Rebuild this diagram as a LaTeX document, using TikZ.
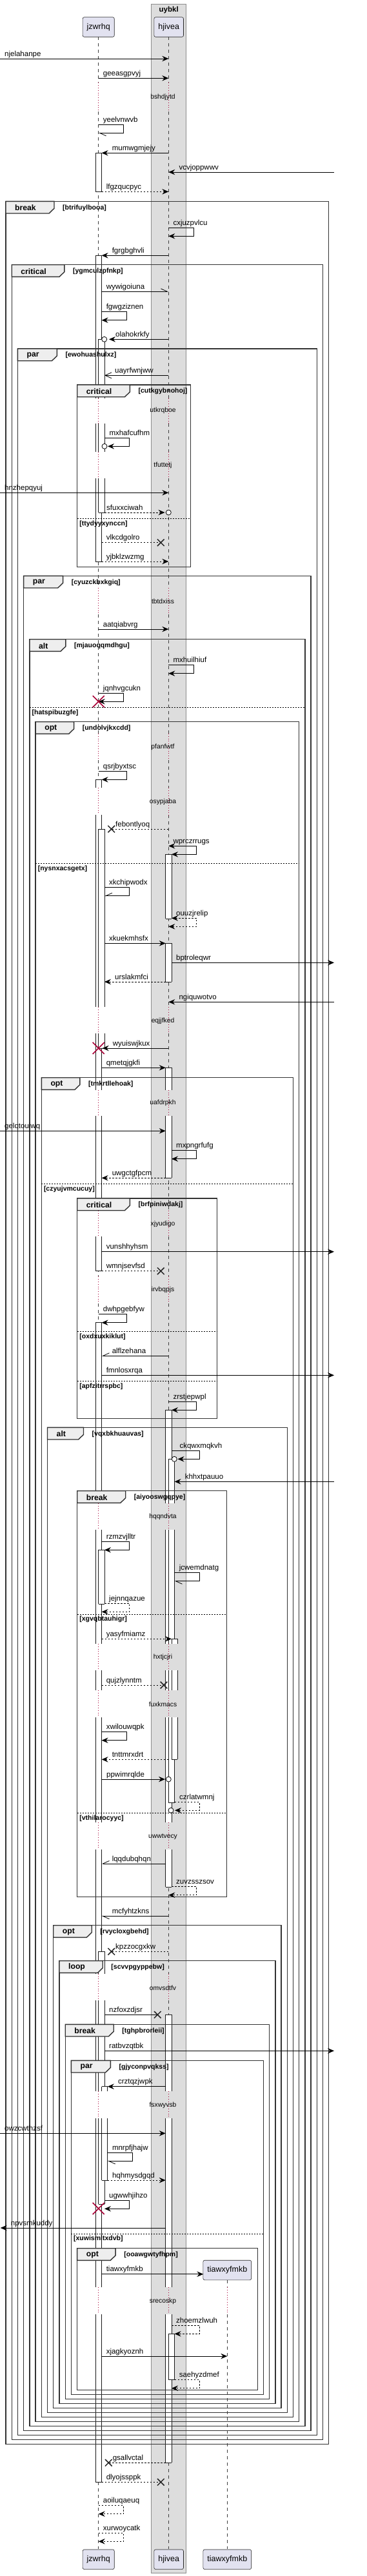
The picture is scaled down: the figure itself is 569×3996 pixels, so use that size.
\documentclass[tikz,border=0pt]{standalone}
\usepackage{fontspec}
\setmainfont{Liberation Sans}
\usetikzlibrary{arrows.meta}

\definecolor{partfill}{RGB}{226,226,240}
\definecolor{delayred}{RGB}{168,0,54}
\definecolor{boxgray}{RGB}{221,221,221}
\definecolor{tabgray}{RGB}{238,238,238}

\tikzset{
  arr/.style={line width=0.8pt, -{Stealth[length=10pt,width=8.5pt,inset=3.5pt]}},
  ret/.style={dash pattern=on 2.5pt off 2.5pt},
  halfl/.style={-{Straight Barb[left,length=10pt,width=9pt]}},
  halfr/.style={-{Straight Barb[right,length=10pt,width=9pt]}},
  openh/.style={-{Straight Barb[length=10pt,width=9pt]}},
  both/.style={{Stealth[length=10pt,width=8.5pt,inset=3.5pt]}-{Stealth[length=10pt,width=8.5pt,inset=3.5pt]}},
  lbl/.style={anchor=base west, inner sep=0pt, font=\fontsize{11.5}{13}\selectfont},
  part/.style={draw=black!85, fill=partfill, rounded corners=2.5pt, line width=0.6pt,
    minimum height=30.6pt, inner xsep=6.5pt, font=\fontsize{12.5}{15}\selectfont},
  life/.style={black!75, line width=0.6pt, dash pattern=on 5pt off 5pt},
  delayline/.style={delayred, line width=0.7pt, dash pattern=on 0.8pt off 3pt},
  delaytxt/.style={inner sep=0pt, font=\fontsize{10.3}{12}\selectfont},
  bar/.style={black!90, line width=0.7pt},
  frm/.style={black!80, line width=1.4pt},
  tab/.style={frm, fill=tabgray},
  kind/.style={anchor=west, inner sep=0pt, font=\bfseries\fontsize{12.2}{14}\selectfont},
  cond/.style={anchor=west, inner sep=0pt, font=\bfseries\fontsize{10.5}{12}\selectfont},
  sepl/.style={black, line width=0.7pt, dash pattern=on 2pt off 2pt},
  lostx/.style={black!85, line width=1.5pt},
  killx/.style={delayred, line width=1.6pt},
  ocirc/.style={circle, draw, fill=white, line width=0.8pt, minimum size=8pt, inner sep=0pt}
}

% message: [style] from, to, y, label
\newcommand{\sqmsg}[5][]{%
  \draw[arr,#1] (#2,#4) -- (#3,#4);
  \ifdim #2pt<#3pt \node[lbl] (#5) at (#2+7,#4-4) {#5};%
  \else \node[lbl] (#5) at (#3+16,#4-4) {#5};\fi}
% self message: [style] from, y, tip, label
\newcommand{\selfmsg}[5][]{%
  \pgfmathsetmacro\selfr{max(#2,#4)+38.7}
  \draw[arr,#1] (#2,#3) -- (\selfr,#3) -- (\selfr,#3+13) -- (#4,#3+13);
  \node[lbl] (#5) at (#2+7,#3-4) {#5};}
% lost message ending in a cross
\newcommand{\lostmsg}[5][]{%
  \draw[line width=0.8pt,#1] (#2,#4) -- (#3,#4);
  \draw[lostx] (#3-5.3,#4-5.3) -- (#3+5.3,#4+5.3) (#3-5.3,#4+5.3) -- (#3+5.3,#4-5.3);
  \ifdim #2pt<#3pt \node[lbl] (#5) at (#2+7,#4-4) {#5};%
  \else \node[lbl] (#5) at (#3+6.3,#4-4) {#5};\fi}
\newcommand{\destroyx}[2]{%
  \draw[killx] (#1-9,#2-9) -- (#1+9,#2+9) (#1-9,#2+9) -- (#1+9,#2-9);}
% activation: left x, y1, y2, edges (1 top, 2 bottom, 3 both)
\newcommand{\actbar}[4]{%
  \fill[white] (#1,#2) rectangle (#1+9.3,#3);
  \draw[bar] (#1,#2) -- (#1,#3) (#1+9.3,#2) -- (#1+9.3,#3);
  \ifodd#4 \draw[bar] (#1,#2) -- ++(9.3,0);\fi
  \ifnum#4>1 \draw[bar] (#1,#3) -- ++(9.3,0);\fi}
% group frame: left, top, right, bottom, kind, tab width, condition
\newcommand{\sqgroup}[7]{%
  \draw[frm] (#1,#2) rectangle (#3,#4);
  \filldraw[tab] (#1,#2) -- (#1+#6,#2) -- (#1+#6,#2+11) -- (#1+#6-8,#2+18.7) -- (#1,#2+18.7) -- cycle;
  \node[kind] (#7-tab) at (#1+14,#2+10) {#5};
  \node[cond] (#7) at (#1+#6+13,#2+10) {[#7]};}
\newcommand{\sqsep}[4]{%
  \draw[sepl] (#1,#3) -- (#2,#3);
  \node[cond] (#4) at (#1+3.5,#3+8) {[#4]};}

\begin{document}
\begin{tikzpicture}[x=1pt, y=-1pt]
  \path[use as bounding box, fill=white] (0,0) rectangle (569,3996);
  % box round hjivea
  \filldraw[fill=boxgray, draw=black!45, line width=0.7pt] (234.7,6) rectangle (288.7,3991);
  \node[font=\bfseries\fontsize{11.5}{13}\selectfont, inner sep=0pt] (uybkl) at (261.7,15.5) {uybkl};

  % lifelines, broken by the delays
  \foreach \ya/\yb in {57.3/128.3, 173.3/618.3, 657/700.7, 741.7/912.3, 953.3/1138, 1179/1222.3,
      1264.3/1562.3, 1603.3/1690.7, 1731/1877.7, 1918.3/1980.3, 2022/2332, 2373.3/2550, 2591/2622.3,
      2664/2827.3, 2869/3061.7, 3103.3/3244.3, 3285.7/3548.3, 3590/3954.3}
    \draw[life] (152.7,\ya) -- (152.7,\yb) (261.3,\ya) -- (261.3,\yb);
  \draw[life] (352.3,3537.3) -- (352.3,3548.3) (352.3,3590) -- (352.3,3954.3);
  \foreach \ya/\yb/\yt/\txt in {128.3/173.3/151/bshdjytd, 618.3/657/637/utkrqboe,
      700.7/741.7/722/tfuttetj, 912.3/953.3/933.3/tbtdxiss, 1138/1179/1159.3/pfanfwtf,
      1222.3/1264.3/1244.3/osypjaba, 1562.3/1603.3/1584.3/eqjjfked, 1690.7/1731/1711.3/uafdrpkh,
      1877.7/1918.3/1899.3/xjyudigo, 1980.3/2022/2001.3/irvbqpjs, 2332/2373.3/2353.3/hqqndvta,
      2550/2591/2571/hxtjcjri, 2622.3/2664/2643.7/fuxkmacs, 2827.3/2869/2849.3/uwwtvecy,
      3061.7/3103.3/3083.3/omvsdtfv, 3244.3/3285.7/3266/fsxwyvsb, 3548.3/3590/3570/srecoskp} {
    \draw[delayline] (152.7,\ya) -- (152.7,\yb) (261.3,\ya) -- (261.3,\yb);
    \node[delaytxt] (\txt) at (252.5,\yt) {\txt};
  }
  \draw[delayline] (352.3,3548.3) -- (352.3,3590);

  % activations on jzwrhq
  \foreach \ya/\yb/\e in {237.3/297.3/3, 396.3/618.3/1, 657/700.7/0, 741.7/871/2, 1209.3/1222.3/1,
      1264.3/1562.3/0, 1603.3/1690.7/0, 1731/1859/0, 1918.3/1971.7/2, 2051.3/2332/1, 2373.3/2550/0,
      2591/2622.3/0, 2664/2827.3/0, 2869/3061.7/0, 3103.3/3244.3/0, 3285.7/3548.3/0, 3590/3850.3/2}
    \actbar{148.3}{\ya}{\yb}{\e};
  \foreach \ya/\yb/\e in {526.3/618.3/1, 657/700.7/0, 741.7/795/2, 1286/1562.3/1, 1603.3/1626/2,
      2404.3/2488.3/3, 3027.3/3061.7/1, 3103.3/3244.3/0, 3285.7/3419/2}
    \actbar{152.7}{\ya}{\yb}{\e};
  \foreach \ya/\yb/\e in {3236.7/3244.3/1, 3285.7/3382/2}
    \actbar{157.5}{\ya}{\yb}{\e};
  % activations on hjivea
  \foreach \ya/\yb/\e in {1325/1425.3/3, 1463.3/1523/3, 1656.3/1690.7/1, 1731/1827.3/2, 2187.3/2332/1,
      2373.3/2550/0, 2591/2622.3/0, 2664/2827.3/0, 2869/2927.3/2, 3125.3/3244.3/1, 3285.7/3548.3/0,
      3590/3820.3/2}
    \actbar{256.7}{\ya}{\yb}{\e};
  \foreach \ya/\yb/\e in {2263.3/2332/1, 2373.3/2550/0, 2591/2622.3/0, 2664/2796/2, 3620.3/3691.7/3}
    \actbar{261.3}{\ya}{\yb}{\e};
  \foreach \ya/\yb/\e in {2542.3/2550/1, 2591/2622.3/0, 2664/2729.3/2}
    \actbar{266}{\ya}{\yb}{\e};

  % nested groups
  \foreach \k/\ft/\kd/\tw/\cd in {0/312.3/break/75/btrifuylbooa, 1/410.7/critical/81.7/ygmculzpfnkp,
      2/541/par/61/ewohuashulxz, 3/893.3/par/61/cyuzckbxkgiq, 4/991.7/alt/56/mjauoqqmdhgu,
      5/1119.7/opt/59.5/undolvjkxcdd, 6/1671.7/opt/59.5/tmkrtllehoak, 7/2214.3/alt/56/vqxbkhuauvas,
      8/2986.7/opt/59.5/rvycloxgbehd, 9/3041.7/loop/67.3/scvvpgyppebw, 10/3140.3/break/75/tghpbrorleii,
      11/3196.3/par/61/gjyconpvqkss, 12/3487.7/opt/59.5/ooawgwtyfhpm} {
    \pgfmathsetmacro\fl{9+9.22*\k}
    \pgfmathsetmacro\fr{509.7-9.2*\k}
    \pgfmathsetmacro\fb{3791.7-7.03*\k}
    \sqgroup{\fl}{\ft}{\fr}{\fb}{\kd}{\tw}{\cd}
  }
  % groups that close early
  \sqgroup{119.7}{597}{295.3}{879.3}{critical}{81.7}{cutkgybnohoj}
  \sqgroup{119.7}{1859}{336.3}{2200.3}{critical}{81.7}{brfpiniwdakj}
  \sqgroup{119.7}{2312.7}{351.3}{2942.3}{break}{75}{aiyooswgqpye}
  % else lines
  \sqsep{119.7}{295.3}{804.3}{ttydyyxynccn}
  \sqsep{45.9}{472.9}{1097.3}{hatspibuzgfe}
  \sqsep{55.1}{463.7}{1339.3}{nysnxacsgetx}
  \sqsep{64.3}{454.5}{1836.3}{czyujvmcucuy}
  \sqsep{119.7}{336.3}{2065.7}{oxdxuxkiklut}
  \sqsep{119.7}{336.3}{2142.7}{apfzitrrspbc}
  \sqsep{119.7}{351.3}{2504}{xgvqbtauhigr}
  \sqsep{119.7}{351.3}{2812.3}{vthilarocyyc}
  \sqsep{110.4}{408.5}{3465}{xuwismltxdvb}

  % participants
  \node[part] (jz) at (152.7,42) {jzwrhq};
  \node[part] (hj) at (261.7,42) {hjivea};
  \node[part] (jzb) at (152.7,3970.2) {jzwrhq};
  \node[part] (hjb) at (261.7,3970.2) {hjivea};
  \node[part] (ti) at (352.3,3521.5) {tiawxyfmkb};
  \node[part] (tib) at (352.3,3970.2) {tiawxyfmkb};

  % messages
  \sqmsg{0}{261.3}{91}{njelahanpe}
  \sqmsg{152.7}{261.3}{121.3}{geeasgpvyj}
  \selfmsg[halfl]{152.7}{193.3}{152.7}{yeelvnwvb}
  \sqmsg{261.3}{157.6}{237.3}{mumwgmjejy}
  \sqmsg{518}{261.3}{267}{vcvjoppwwv}
  \sqmsg[ret]{157.6}{261.3}{297.3}{lfgzqucpyc}
  \selfmsg{261.3}{353.3}{261.3}{cxjuzpvlcu}
  \sqmsg{261.3}{157.6}{396.3}{fgrgbghvli}
  \sqmsg[halfl]{157.6}{261.3}{452.3}{wywigoiuna}
  \selfmsg{157.6}{483.7}{157.6}{fgwgziznen}
  \draw[arr] (261.3,526.3) -- (169,526.3);
  \node[ocirc] (o1) at (161.7,526.3) {};
  \node[lbl] (olahokrkfy) at (179,522.3) {olahokrkfy};
  \sqmsg[openh]{261.3}{162}{582.3}{uayrfwnjww}
  \draw[arr] (162,679.3) -- (200.7,679.3) -- (200.7,692.3) -- (167,692.3);
  \node[ocirc] (o2) at (162,692.3) {};
  \node[lbl] (mxhafcufhm) at (169.3,675.3) {mxhafcufhm};
  \sqmsg{0}{261.3}{764.3}{hnzhepqyuj}
  \draw[arr,ret] (162,795) -- (255.5,795);
  \node[ocirc] (o3) at (261.3,795) {};
  \node[lbl] (sfuxxciwah) at (165,791) {sfuxxciwah};
  \lostmsg[ret]{157.6}{249.3}{841.7}{vlkcdgolro}
  \sqmsg[ret]{157.6}{261.3}{871}{yjbklzwzmg}
  \sqmsg{152.7}{261.3}{976}{aatqiabvrg}
  \selfmsg{261.3}{1031.7}{261.3}{mxhuilhiuf}
  \selfmsg{152.7}{1075.3}{152.7}{jqnhvgcukn}
  \destroyx{152.7}{1088.3}
  \selfmsg{152.7}{1196.3}{157.6}{qsrjbyxtsc}
  \lostmsg[ret]{261.3}{172.7}{1286}{febontlyoq}
  \selfmsg[both]{261.3}{1312.3}{266}{wprczrrugs}
  \selfmsg[halfr]{162}{1376.7}{162}{xkchipwodx}
  \selfmsg[ret,both]{266}{1424.3}{261.3}{ouuzjrelip}
  \sqmsg{162}{256.7}{1463.3}{xkuekmhsfx}
  \sqmsg{266}{518}{1493.3}{bptroleqwr}
  \sqmsg[ret]{256.7}{162}{1523}{urslakmfci}
  \sqmsg{518}{261.3}{1554.3}{ngiquwotvo}
  \sqmsg{261.3}{158.7}{1626}{wyuiswjkux}
  \destroyx{152.7}{1626}
  \sqmsg{157.6}{256.7}{1656.3}{qmetqjgkfi}
  \sqmsg{0}{256.7}{1754.3}{gelqtouiwq}
  \selfmsg{266}{1784.7}{266}{mxpngrfufg}
  \sqmsg[ret]{256.7}{157.6}{1827.3}{uwgctgfpcm}
  \sqmsg{157.6}{518}{1941.7}{vunshhyhsm}
  \lostmsg[ret]{157.6}{249.3}{1971.7}{wmnjsevfsd}
  \selfmsg{152.7}{2038.7}{157.6}{dwhpgebfyw}
  \sqmsg[halfr]{261.3}{157.6}{2103.3}{alflzehana}
  \sqmsg{157.6}{518}{2133.3}{fmnlosxrqa}
  \selfmsg{261.3}{2174.3}{266}{zrstjepwpl}
  \draw[arr] (266,2250.7) -- (309,2250.7) -- (309,2263.3) -- (275.5,2263.3);
  \node[ocirc] (o4) at (270.3,2263.3) {};
  \node[lbl] (ckqwxmqkvh) at (278.3,2246.7) {ckqwxmqkvh};
  \sqmsg{518}{270.6}{2298.3}{khhxtpauuo}
  \selfmsg{157.6}{2391.3}{162}{rzmzvjlltr}
  \selfmsg[halfl]{270.6}{2439.7}{270.6}{jcwemdnatg}
  \selfmsg[ret]{162}{2487.3}{157.6}{jejnnqazue}
  \sqmsg[ret]{157.6}{266}{2542.3}{yasyfmiamz}
  \lostmsg[ret]{157.6}{254}{2614}{qujzlynntm}
  \selfmsg{157.6}{2686.7}{157.6}{xwilouwqpk}
  \sqmsg[ret]{261.3}{157.6}{2729.3}{tnttmrxdrt}
  \draw[arr] (157.6,2760) -- (256,2760);
  \node[ocirc] (o5) at (261.3,2760) {};
  \node[lbl] (ppwimrqlde) at (165,2756) {ppwimrqlde};
  \draw[arr,ret] (270.6,2795.7) -- (309,2795.7) -- (309,2808.3) -- (271,2808.3);
  \node[ocirc] (o6) at (265,2808.3) {};
  \node[lbl] (czrlatwmnj) at (278,2791.7) {czrlatwmnj};
  \sqmsg[halfr]{256.7}{157.6}{2891}{lqqdubqhqn}
  \selfmsg[ret]{266}{2926.7}{261.3}{zuvzsszsov}
  \sqmsg[halfl]{261.3}{157.6}{2972.3}{mcfyhtzkns}
  \lostmsg[ret]{261.3}{172.7}{3027.3}{kpzzocgxkw}
  \lostmsg{162}{244.3}{3125.3}{nzfoxzdjsr}
  \sqmsg{162}{518}{3181.3}{ratbvzqtbk}
  \sqmsg{256.7}{166.8}{3236.7}{crztqzjwpk}
  \sqmsg{0}{256.7}{3309.3}{owzcwthzsf}
  \selfmsg[halfl]{166.8}{3339.3}{166.8}{mnrpfjhajw}
  \sqmsg[ret]{166.8}{256.7}{3382}{hqhmysdgqd}
  \selfmsg{162}{3413.3}{162}{ugwwhjihzo}
  \destroyx{152.7}{3426}
  \sqmsg{256.7}{0.7}{3456}{npvsmkuddy}
  \sqmsg{157.6}{315.3}{3527.7}{tiawxyfmkb}
  \selfmsg[ret]{266}{3607.3}{270.6}{zhoemzlwuh}
  \sqmsg{157.6}{352.3}{3655}{xjagkyoznh}
  \selfmsg[ret]{270.6}{3691.7}{266}{saehyzdmef}
  \lostmsg[ret]{256.7}{168.3}{3820.3}{gsallvctal}
  \lostmsg[ret]{157.6}{249.3}{3850.3}{dlyojssppk}
  \selfmsg[ret]{152.7}{3886.7}{152.7}{aoiluqaeuq}
  \selfmsg[ret]{152.7}{3929.3}{152.7}{xurwoycatk}
\end{tikzpicture}
\end{document}
